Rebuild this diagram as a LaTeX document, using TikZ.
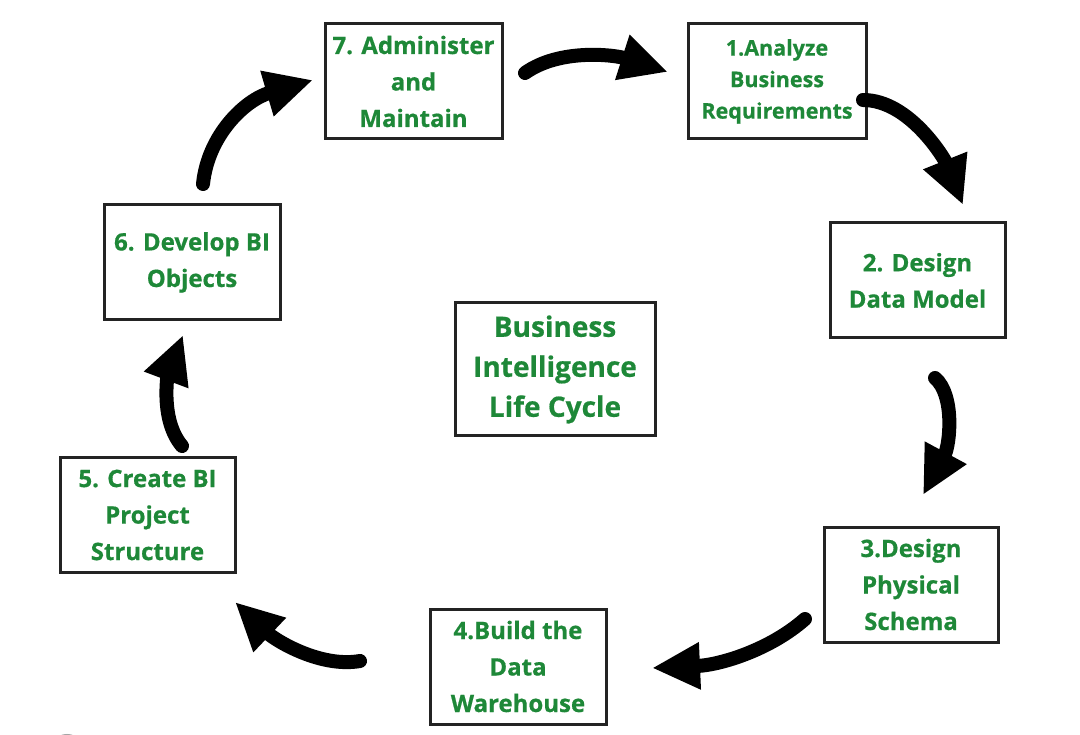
\documentclass[tikz,border=0pt]{standalone}
\usepackage{fontspec}
\setmainfont{Open Sans}[BoldFeatures={FakeBold=0.6}]
\usetikzlibrary{arrows.meta}
\definecolor{bigreen}{RGB}{30,136,56}
\definecolor{boxline}{RGB}{35,35,35}
\tikzset{
  stage/.style={draw=boxline, line width=3pt, fill=white, minimum width=#1, inner sep=0pt, align=center, text=bigreen, font=\bfseries\fontsize{24}{36.5}\selectfont},
  stage/.default={176pt},
  arr/.style={line width=14pt, line cap=round, black, -{Triangle[length=48pt,width=44pt]}},
}
\begin{document}
\begin{tikzpicture}[x=1pt,y=-1pt]
\useasboundingbox (0,0) rectangle (1080,735);
\clip (0,0) rectangle (1080,735);
\fill[white] (0,0) rectangle (1080,735);
\node[stage={177pt}, minimum height=115pt] (n7) at (413.5,81.5) {7. Administer\\and\\Maintain};
\node[stage={178pt}, minimum height=115pt, font=\bfseries\fontsize{21.5}{31.5}\selectfont] (n1) at (777,81.5) {1.Analyze\\Business\\Requirements};
\node[stage={175pt}, minimum height=115pt] (n2) at (917.5,280.5) {2. Design\\Data Model};
\node[stage={174pt}, minimum height=115pt] (n3) at (911,584.5) {\raisebox{-4pt}{\parbox{174pt}{\centering 3.Design\\Physical\\Schema}}};
\node[stage={176pt}, minimum height=115pt] (n4) at (518,666.5) {4.Build the\\Data\\Warehouse};
\node[stage={175pt}, minimum height=114pt] (n5) at (147.5,515) {5. Create BI\\Project\\Structure};
\node[stage={176pt}, minimum height=115pt] (n6) at (192,262.5) {6. Develop BI\\Objects};
\node[stage={200pt}, minimum height=133pt, font=\bfseries\fontsize{28}{40}\selectfont] (nc) at (555,369.5) {Business\\Intelligence\\Life Cycle};
% arrow ends
\coordinate (a71) at (525,73);  \coordinate (b71) at (668,72);
\coordinate (a12) at (863,100); \coordinate (b12) at (963,205);
\coordinate (a23) at (935,378); \coordinate (b23) at (923,495);
\coordinate (a34) at (805,619); \coordinate (b34) at (652,668);
\coordinate (a45) at (360,661); \coordinate (b45) at (235,602);
\coordinate (a56) at (182,446); \coordinate (b56) at (183,335);
\coordinate (a67) at (203,184); \coordinate (b67) at (313,80);
\draw[arr] (a71) .. controls (560,48) and (615,55) .. (b71);
\draw[arr] (a12) .. controls (910,100) and (945,160) .. (b12);
\draw[arr] (a23) .. controls (955,395) and (950,445) .. (b23);
\draw[arr] (a34) .. controls (770,650) and (720,665) .. (b34);
\draw[arr] (a45) .. controls (320,668) and (275,640) .. (b45);
\draw[arr] (a56) .. controls (160,420) and (168,375) .. (b56);
\draw[arr] (a67) .. controls (208,135) and (245,100) .. (b67);
\draw[gray!70, line width=2pt] (67,752) circle (17);
\end{tikzpicture}
\end{document}
